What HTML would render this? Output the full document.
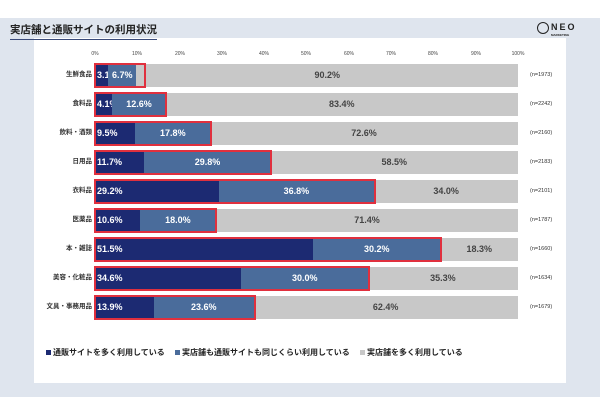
<!DOCTYPE html>
<html><head><meta charset="utf-8"><style>
*{margin:0;padding:0;box-sizing:border-box}
body{width:600px;height:400px;background:#fff;position:relative;font-family:"Liberation Sans","Noto Sans CJK JP",sans-serif;overflow:hidden}
#bg{position:absolute;left:0;top:18px;width:600px;height:379px;background:#dfe5ee}
#title{position:absolute;left:10px;top:23px;font-size:10.5px;font-weight:bold;color:#222;white-space:nowrap;line-height:14px}
#ul{position:absolute;left:10px;top:39px;width:147px;height:1px;background:#3a4a7a}
#logo{position:absolute;left:551px;top:22px;font-size:9px;font-weight:bold;color:#222;letter-spacing:2px}
#logo span{position:absolute;left:-14px;top:0;width:12px;height:12px;border:1.5px solid #222;border-radius:50%}
#logo i{position:absolute;left:0;top:11px;font-size:3px;font-style:normal;letter-spacing:0}
#panel{position:absolute;left:34px;top:38px;width:532px;height:345px;background:#fff}
.tick{position:absolute;top:51px;font-size:5px;color:#444;transform:translateX(-50%)}
.row{position:absolute;left:95px;width:423px;height:23px;display:flex}
.row div{height:100%;font-size:9px;font-weight:bold;line-height:23px;white-space:nowrap;overflow:visible;text-align:center}
.d{background:#1c2a72;color:#fff;text-align:left!important;padding-left:2px}
.m{background:#4a6c9b;color:#fff}
.g{background:#c8c8c8;color:#444}
.box{position:absolute;left:94px;height:25px;border:2px solid #e0303e}
.lab{position:absolute;right:508px;font-size:6.5px;font-weight:bold;color:#333;white-space:nowrap;line-height:8px}
.n{position:absolute;left:530px;font-size:5.5px;color:#333;line-height:8px}
#leg{position:absolute;left:46px;top:347px;font-size:8px;font-weight:bold;color:#222;white-space:nowrap}
#leg b{display:inline-block;width:5px;height:5px;margin-right:2px}
</style></head><body>
<div id="bg"></div>
<div id="panel"></div>
<div id="title">実店舗と通販サイトの利用状況</div>
<div id="ul"></div>
<div id="logo"><span></span>NEO<i>MARKETING</i></div>
<div class="tick" style="left:95px">0%</div><div class="tick" style="left:137px">10%</div><div class="tick" style="left:180px">20%</div><div class="tick" style="left:222px">30%</div><div class="tick" style="left:264px">40%</div><div class="tick" style="left:306px">50%</div><div class="tick" style="left:349px">60%</div><div class="tick" style="left:391px">70%</div><div class="tick" style="left:433px">80%</div><div class="tick" style="left:476px">90%</div><div class="tick" style="left:518px">100%</div>

<div class="row" style="top:64px"><div class="d" style="width:3.1%">3.1%</div><div class="m" style="width:6.7%">6.7%</div><div class="g" style="width:90.2%">90.2%</div></div>
<div class="box" style="top:63px;width:52px"></div><div class="lab" style="top:71px">生鮮食品</div><div class="n" style="top:71px">(n=1973)</div>

<div class="row" style="top:93px"><div class="d" style="width:4.1%">4.1%</div><div class="m" style="width:12.6%">12.6%</div><div class="g" style="width:83.4%">83.4%</div></div>
<div class="box" style="top:92px;width:73px"></div><div class="lab" style="top:100px">食料品</div><div class="n" style="top:100px">(n=2242)</div>

<div class="row" style="top:122px"><div class="d" style="width:9.5%">9.5%</div><div class="m" style="width:17.8%">17.8%</div><div class="g" style="width:72.6%">72.6%</div></div>
<div class="box" style="top:121px;width:118px"></div><div class="lab" style="top:129px">飲料・酒類</div><div class="n" style="top:129px">(n=2160)</div>

<div class="row" style="top:151px"><div class="d" style="width:11.7%">11.7%</div><div class="m" style="width:29.8%">29.8%</div><div class="g" style="width:58.5%">58.5%</div></div>
<div class="box" style="top:150px;width:178px"></div><div class="lab" style="top:158px">日用品</div><div class="n" style="top:158px">(n=2183)</div>

<div class="row" style="top:180px"><div class="d" style="width:29.2%">29.2%</div><div class="m" style="width:36.8%">36.8%</div><div class="g" style="width:34%">34.0%</div></div>
<div class="box" style="top:179px;width:282px"></div><div class="lab" style="top:187px">衣料品</div><div class="n" style="top:187px">(n=2101)</div>

<div class="row" style="top:209px"><div class="d" style="width:10.6%">10.6%</div><div class="m" style="width:18%">18.0%</div><div class="g" style="width:71.4%">71.4%</div></div>
<div class="box" style="top:208px;width:123px"></div><div class="lab" style="top:216px">医薬品</div><div class="n" style="top:216px">(n=1787)</div>

<div class="row" style="top:238px"><div class="d" style="width:51.5%">51.5%</div><div class="m" style="width:30.2%">30.2%</div><div class="g" style="width:18.3%">18.3%</div></div>
<div class="box" style="top:237px;width:348px"></div><div class="lab" style="top:245px">本・雑誌</div><div class="n" style="top:245px">(n=1660)</div>

<div class="row" style="top:267px"><div class="d" style="width:34.6%">34.6%</div><div class="m" style="width:30%">30.0%</div><div class="g" style="width:35.3%">35.3%</div></div>
<div class="box" style="top:266px;width:276px"></div><div class="lab" style="top:274px">美容・化粧品</div><div class="n" style="top:274px">(n=1634)</div>

<div class="row" style="top:296px"><div class="d" style="width:13.9%">13.9%</div><div class="m" style="width:23.6%">23.6%</div><div class="g" style="width:62.4%">62.4%</div></div>
<div class="box" style="top:295px;width:162px"></div><div class="lab" style="top:303px">文具・事務用品</div><div class="n" style="top:303px">(n=1679)</div>

<div id="leg"><b style="background:#1c2a72"></b>通販サイトを多く利用している　 <b style="background:#4a6c9b"></b>実店舗も通販サイトも同じくらい利用している　 <b style="background:#c8c8c8"></b>実店舗を多く利用している</div>
</body></html>
